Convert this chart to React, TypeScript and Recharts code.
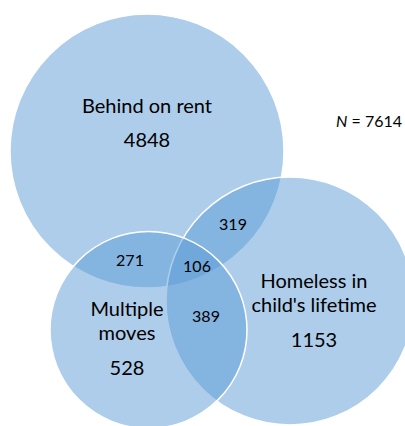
import React from 'react';
import { ScatterChart, Scatter, XAxis, YAxis } from 'recharts';

// circle layout, in page units (the chart maps 1 unit to 1 px)
const circleNames = ['Behind on rent', "Homeless in child's lifetime", 'Multiple moves'];
const circleX = [147, 290, 148.5];
const circleY = [151, 301, 330];
const circleR = [137, 124, 98.5];

// set labels and their counts
const setLines = [['Behind on rent'], ['Homeless in', "child's lifetime"], ['Multiple', 'moves']];
const setCounts = [4848, 1153, 528];
const setLabelX = [147, 314, 127];
const setLabelY = [113, 288, 316];
const setCountY = [147, 347, 375];

// overlap counts
const overlapCounts = [319, 271, 389, 106];
const overlapX = [233, 130, 206, 197];
const overlapY = [230, 266, 322, 272];

const W = 405;
const H = 426;
const FONT = 'Lato, "Noto Sans", sans-serif';

const circles = circleNames.map((name, i) => ({ name, x: circleX[i], y: circleY[i], r: circleR[i] }));

const setLabels = setLines.map((lines, i) => ({
  lines,
  count: setCounts[i],
  x: setLabelX[i],
  y: setLabelY[i],
  countDy: setCountY[i] - setLabelY[i],
}));

const overlaps = overlapCounts.map((v, i) => ({ v, x: overlapX[i], y: overlapY[i] }));

const CircleShape = (props: any) => {
  const { cx, cy, payload } = props;
  return (
    <circle
      cx={cx}
      cy={cy}
      r={payload.r}
      fill="#5B9BD5"
      fillOpacity={0.5}
      stroke="#ffffff"
      strokeWidth={1.5}
    />
  );
};

const SetLabel = (props: any) => {
  const { cx, cy, payload } = props;
  return (
    <g>
      {payload.lines.map((l: string, i: number) => (
        <text key={i} x={cx} y={cy + i * 24} textAnchor="middle" fontFamily={FONT} fontSize={20} fill="#000">
          {l}
        </text>
      ))}
      <text x={cx} y={cy + payload.countDy} textAnchor="middle" fontFamily={FONT} fontSize={20} fill="#000">
        {payload.count}
      </text>
    </g>
  );
};

const OverlapLabel = (props: any) => {
  const { cx, cy, payload } = props;
  return (
    <text x={cx} y={cy} textAnchor="middle" fontFamily={FONT} fontSize={16} fill="#000">
      {payload.v}
    </text>
  );
};

const NLabel = (props: any) => {
  const { cx, cy } = props;
  return (
    <text x={cx} y={cy} textAnchor="end" fontFamily={FONT} fontSize={16} fill="#000">
      <tspan fontStyle="italic">N</tspan>
      <tspan> = 7614</tspan>
    </text>
  );
};

export default function App() {
  return (
    <div style={{ position: 'absolute', left: 0, top: 0, background: '#fff' }}>
      <ScatterChart width={W} height={H} margin={{ top: 0, right: 0, bottom: 0, left: 0 }}>
        <XAxis type="number" dataKey="x" domain={[0, W]} hide />
        <YAxis type="number" dataKey="y" domain={[0, H]} reversed hide />
        <Scatter data={circles} shape={CircleShape} isAnimationActive={false} />
        <Scatter data={setLabels} shape={SetLabel} isAnimationActive={false} />
        <Scatter data={overlaps} shape={OverlapLabel} isAnimationActive={false} />
        <Scatter data={[{ x: 402, y: 127 }]} shape={NLabel} isAnimationActive={false} />
      </ScatterChart>
    </div>
  );
}
